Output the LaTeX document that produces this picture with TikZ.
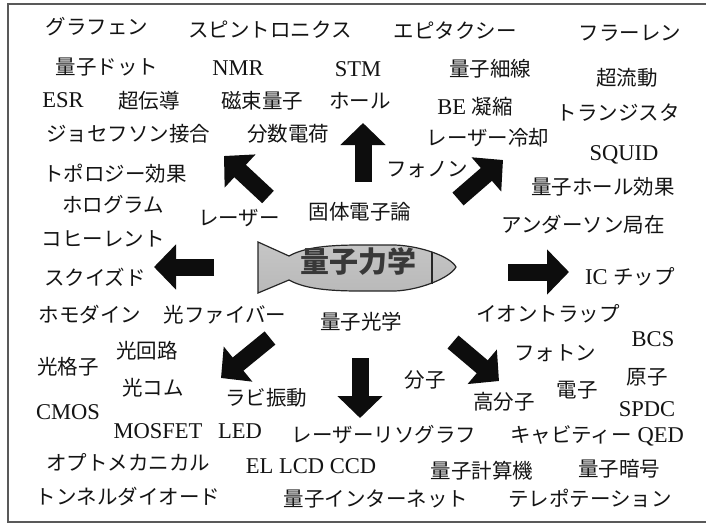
\documentclass[tikz,border=0pt]{standalone}
\usepackage{fontspec}
\setmainfont{Liberation Serif}[Scale=1.1]
\newfontfamily\jp{Noto Sans CJK JP}
\usetikzlibrary{arrows.meta}
\begin{document}
\begin{tikzpicture}[x=1pt,y=-1pt,
  base/.style={inner sep=0pt, text=black!92, text height=0.86em, text depth=0.12em},
  jl/.style={base, font=\fontsize{20.5}{24}\selectfont\jp},
  ll/.style={base, font=\fontsize{20.5}{24}\selectfont\rmfamily},
  bigarrow/.style={line width=17pt, black!95, -{Triangle[length=22pt,width=44pt]}},
  frame/.style={draw=black!65, line width=1.3pt}
]
\useasboundingbox (0,0) rectangle (706,527);
\fill[white] (0,0) rectangle (706,527);
\draw[frame] (710,4) -- (8,4) -- (8,522) -- (710,522);

% central capsule with tail
\shadedraw[top color=gray!45, middle color=white, bottom color=gray!55,
  draw=black!85, line width=1.2pt]
  (258,242) -- (289,256)
  .. controls (305,247) and (330,245) .. (360,245)
  -- (395,245)
  .. controls (420,246) and (450,256) .. (456,267)
  .. controls (450,278) and (420,290) .. (395,291)
  -- (360,291)
  .. controls (330,291) and (305,289) .. (289,280)
  -- (258,293) -- cycle;
\draw[black!85, line width=1.2pt] (432,252) -- (432,284);
\node[base, font=\fontsize{29}{32}\selectfont\jp\bfseries, text=black!78] (qm) at (358,268) {量子力学};

% radial arrows
\coordinate (nT) at (363,182); \coordinate (nH) at (363,123);
\coordinate (nwT) at (268,197); \coordinate (nwH) at (224,156);
\coordinate (neT) at (458,199); \coordinate (neH) at (503,160);
\coordinate (wT) at (214,267); \coordinate (wH) at (154,267);
\coordinate (eT) at (508,272); \coordinate (eH) at (569,272);
\coordinate (sT) at (360,358); \coordinate (sH) at (360,418);
\coordinate (swT) at (270,338); \coordinate (swH) at (221,378);
\coordinate (seT) at (453,342); \coordinate (seH) at (499,381);
\foreach \d in {n,nw,ne,w,e,s,sw,se} \draw[bigarrow] (\d T) -- (\d H);

% labels
\node[jl] (graphene) at (97,30) {グラフェン};
\node[jl] (spintro) at (270,33) {スピントロニクス};
\node[jl] (epitaxy) at (455,34) {エピタクシー};
\node[jl] (fullerene) at (630,36) {フラーレン};
\node[jl] (qdot) at (107,70) {量子ドット};
\node[ll] (nmr) at (238,71) {NMR};
\node[ll] (stm) at (358,72) {STM};
\node[jl] (qwire) at (490,72) {量子細線};
\node[jl] (superfluid) at (627,81) {超流動};
\node[ll] (esr) at (63,103) {ESR};
\node[jl] (supercond) at (149,104) {超伝導};
\node[jl] (fluxq) at (262,104) {磁束量子};
\node[jl] (hall) at (360,104) {ホール};
\node[ll] (bec) at (475,110) {BE {\jp 凝縮}};
\node[jl] (transistor) at (618,116) {トランジスタ};
\node[jl] (josephson) at (128,137) {ジョセフソン接合};
\node[jl] (fraccharge) at (288,137) {分数電荷};
\node[jl] (lasercool) at (488,141) {レーザー冷却};
\node[ll] (squid) at (624,156) {SQUID};
\node[jl] (topo) at (115,177) {トポロジー効果};
\node[jl] (phonon) at (427,172) {フォノン};
\node[jl] (qhall) at (603,190) {量子ホール効果};
\node[jl] (holo) at (113,208) {ホログラム};
\node[jl] (laser) at (239,221) {レーザー};
\node[jl] (solidstate) at (360,215) {固体電子論};
\node[jl] (anderson) at (583,228) {アンダーソン局在};
\node[jl] (coherent) at (103,242) {コヒーレント};
\node[jl] (squeezed) at (95,281) {スクイズド};
\node[ll] (icchip) at (630,280) {IC {\jp チップ}};
\node[jl] (homodyne) at (90,318) {ホモダイン};
\node[jl] (fiber) at (225,318) {光ファイバー};
\node[jl] (qoptics) at (361,325) {量子光学};
\node[jl] (iontrap) at (548,317) {イオントラップ};
\node[ll] (bcs) at (653,342) {BCS};
\node[jl] (ocircuit) at (147,354) {光回路};
\node[jl] (photon) at (555,356) {フォトン};
\node[jl] (olattice) at (68,370) {光格子};
\node[jl] (atom) at (647,380) {原子};
\node[jl] (molecule) at (425,383) {分子};
\node[jl] (comb) at (153,391) {光コム};
\node[jl] (rabi) at (266,401) {ラビ振動};
\node[jl] (electron) at (577,393) {電子};
\node[jl] (polymer) at (504,405) {高分子};
\node[ll] (cmos) at (68,415) {CMOS};
\node[ll] (spdc) at (647,412) {SPDC};
\node[ll] (mosfet) at (158,434) {MOSFET};
\node[ll] (led) at (240,434) {LED};
\node[jl] (litho) at (384,438) {レーザーリソグラフ};
\node[ll] (cavity) at (597,438) {{\jp キャビティー} QED};
\node[jl] (optomech) at (128,466) {オプトメカニカル};
\node[ll] (ellcd) at (311,469) {EL LCD CCD};
\node[jl] (qcomp) at (482,474) {量子計算機};
\node[jl] (qcrypto) at (619,472) {量子暗号};
\node[jl] (tunnel) at (128,500) {トンネルダイオード};
\node[jl] (qinternet) at (376,502) {量子インターネット};
\node[jl] (teleport) at (590,502) {テレポテーション};
\end{tikzpicture}
\end{document}
